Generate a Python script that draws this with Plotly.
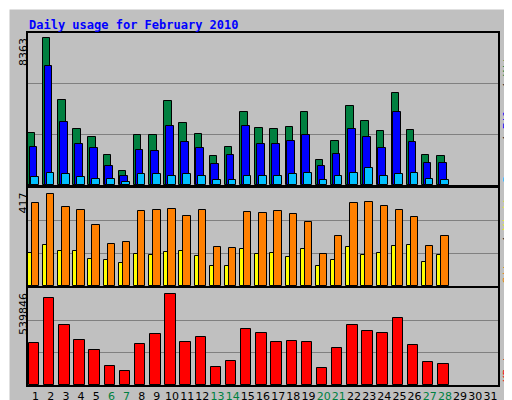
import plotly.graph_objects as go

days = list(range(1, 32))
data_days = list(range(1, 29))
weekend = [6, 7, 13, 14, 20, 21, 27, 28]

hits = [2967, 8363, 4840, 3195, 2740, 1720, 813, 2855, 2855, 4785, 3535, 2910, 1663, 2173,
        4160, 3250, 3195, 3310, 4160, 1437, 2515, 4500, 3650, 3080, 5240, 3140, 1720, 1663]
files = [2173, 6770, 3590, 2345, 2117, 1097, 530, 2003, 1947, 3365, 2458, 2117, 1210, 1720,
         3365, 2345, 2345, 2515, 2855, 1097, 1777, 3195, 2740, 2117, 4160, 2458, 1265, 1265]
pages = [472, 700, 643, 472, 360, 360, 190, 643, 643, 530, 643, 530, 303, 303,
         530, 530, 530, 643, 700, 303, 530, 700, 983, 530, 643, 700, 360, 303]
visits = [376, 417, 358, 344, 276, 190, 199, 340, 344, 349, 317, 344, 177, 172,
          335, 331, 340, 326, 290, 145, 227, 376, 381, 363, 344, 313, 181, 227]
sites = [150, 186, 159, 159, 122, 118, 104, 145, 140, 154, 159, 136, 91, 91,
         168, 145, 150, 131, 168, 91, 118, 177, 140, 150, 181, 186, 109, 140]
kbytes = [249160, 516114, 355942, 266956, 207633, 112712, 83051, 243228, 302551, 539846,
          255093, 284755, 106780, 142374, 332209, 308483, 255093, 261024, 255093, 100848,
          219497, 355942, 320346, 308483, 397468, 237293, 136442, 124577]

tick_text = [f'<span style="color:#008040">{d}</span>' if d in weekend else str(d) for d in days]

fig = go.Figure()
line = dict(color="black", width=1)


def bars(y, color, offset, width, axis):
    fig.add_trace(go.Bar(x=data_days, y=y, offset=offset, width=width,
                         marker=dict(color=color, line=line),
                         xaxis="x" + axis, yaxis="y" + axis))


bars(hits, "#008040", -0.51, 0.49, "")
bars(files, "#0000FF", -0.40, 0.51, "")
bars(pages, "#00C0FF", -0.27, 0.51, "")
bars(sites, "#FFFF00", -0.51, 0.29, "2")
bars(visits, "#FF8000", -0.25, 0.49, "2")
bars(kbytes, "#FF0000", -0.45, 0.69, "3")

xd = [20 / 512, 490 / 512]
xcommon = dict(range=[0.5, 31.5], domain=xd, showgrid=False, zeroline=False, automargin=False,
               showline=True, linecolor="black", mirror=True, linewidth=2)
ycommon = dict(showticklabels=False, ticks="", gridcolor="#808080", gridwidth=1, automargin=False,
               zeroline=False, showline=True, linecolor="black", mirror=True, linewidth=2)
top_max, mid_max, bot_max = 8618, 444, 575000

fig.update_layout(
    width=512, height=400, margin=dict(l=0, r=0, t=0, b=0, autoexpand=False),
    paper_bgcolor="#C0C0C0", plot_bgcolor="#C0C0C0", showlegend=False,
    barmode="overlay", bargap=0,
    font=dict(family="DejaVu Sans Mono", size=11, color="black"),
    xaxis=dict(xcommon, showticklabels=False, anchor="y"),
    xaxis2=dict(xcommon, showticklabels=False, anchor="y2"),
    xaxis3=dict(xcommon, anchor="y3", tickvals=days, ticktext=tick_text, ticks="", tickangle=0,
                tickfont=dict(family="DejaVu Sans", size=11)),
    yaxis=dict(ycommon, domain=[0.5575, 0.9375], range=[0, top_max],
               tickvals=[top_max / 3, top_max * 2 / 3], anchor="x"),
    yaxis2=dict(ycommon, domain=[0.305, 0.55], range=[0, mid_max],
                tickvals=[mid_max / 3, mid_max * 2 / 3], anchor="x2"),
    yaxis3=dict(ycommon, domain=[0.0575, 0.30], range=[0, bot_max],
                tickvals=[bot_max / 3, bot_max * 2 / 3], anchor="x3"),
)

ann = dict(xref="paper", yref="paper", showarrow=False, textangle=-90)
fig.add_annotation(ann, x=15 / 512, y=1 - 28 / 400, text=str(max(hits)), xanchor="center", yanchor="top",
                   font=dict(family="DejaVu Sans", size=11))
fig.add_annotation(ann, x=15 / 512, y=1 - 183 / 400, text=str(max(visits)), xanchor="center", yanchor="top",
                   font=dict(family="DejaVu Sans", size=11))
fig.add_annotation(ann, x=15 / 512, y=1 - 283 / 400, text=str(max(kbytes)), xanchor="center", yanchor="top",
                   font=dict(family="DejaVu Sans", size=11))
fig.add_annotation(ann, x=499 / 512, y=1 - 177 / 400, xanchor="center", yanchor="bottom",
                   text='<span style="color:#00C0FF">Pages</span> / <span style="color:#0000FF">Files</span>'
                        ' / <span style="color:#008040">Hits</span>')
fig.add_annotation(ann, x=499 / 512, y=1 - 278 / 400, xanchor="center", yanchor="bottom",
                   text='<span style="color:#FF8000">Sites</span> / <span style="color:#FFFF00">Visits</span>')
fig.add_annotation(ann, x=499 / 512, y=1 - 376 / 400, xanchor="center", yanchor="bottom",
                   text='<span style="color:#FF0000">KBytes</span>')
fig.add_annotation(xref="paper", yref="paper", x=19 / 512, y=1 - 8 / 400, xanchor="left", yanchor="top",
                   showarrow=False, text="<b>Daily usage for February 2010</b>",
                   font=dict(family="DejaVu Sans Mono", size=12, color="#0000FF"))

# 3D frame around the image
fig.add_shape(type="line", xref="paper", yref="paper", x0=0, x1=0, y0=0, y1=1, line=dict(color="white", width=3))
fig.add_shape(type="line", xref="paper", yref="paper", x0=0, x1=1, y0=1, y1=1, line=dict(color="white", width=3))
fig.add_shape(type="line", xref="paper", yref="paper", x0=1, x1=1, y0=0, y1=1, line=dict(color="#808080", width=8))
fig.add_shape(type="line", xref="paper", yref="paper", x0=0, x1=1, y0=0, y1=0, line=dict(color="#808080", width=8))

fig.write_html("out.html")
